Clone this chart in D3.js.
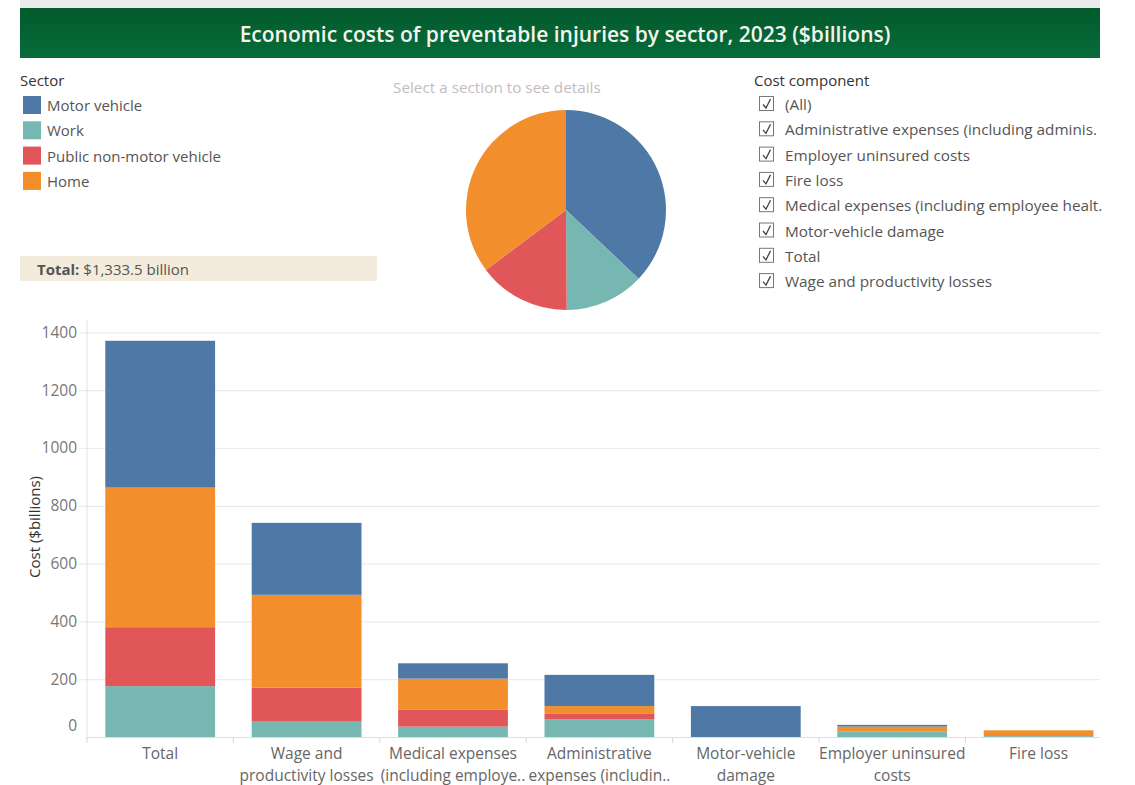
<!DOCTYPE html>
<html>
<head>
<meta charset="utf-8">
<script src="https://cdn.jsdelivr.net/npm/d3@7"></script>
<style>
  html, body { margin: 0; padding: 0; background: #fff; }
  svg { display: block; font-family: "Open Sans", "Noto Sans", sans-serif; }
</style>
</head>
<body>
<svg id="chart" width="1135" height="785"></svg>
<script>
// ---- data ($billions, 2023) ----
const categories = [
  "Total",
  "Wage and productivity losses",
  "Medical expenses (including employee health insurance)",
  "Administrative expenses (including administrative costs)",
  "Motor-vehicle damage",
  "Employer uninsured costs",
  "Fire loss"
];
const categoryLabelLines = [
  ["Total"],
  ["Wage and", "productivity losses"],
  ["Medical expenses", "(including employe.."],
  ["Administrative", "expenses (includin.."],
  ["Motor-vehicle", "damage"],
  ["Employer uninsured", "costs"],
  ["Fire loss"]
];
const sectors = ["Motor vehicle", "Work", "Public non-motor vehicle", "Home"];
const sectorColors = ["#4e79a7", "#76b7b2", "#e15759", "#f28e2b"];

const motorVehicle   = [508, 249,  53, 108, 107,  6,  0];
const work           = [176,  53,  36,  62,   0, 18,  3];
const publicNonMotor = [204, 118,  58,  18,   0,  1,  0];
const home           = [483, 321, 108,  27,   0, 17, 20];

const yTicks = [0, 200, 400, 600, 800, 1000, 1200, 1400];
const costComponents = [
  "(All)",
  "Administrative expenses (including adminis.",
  "Employer uninsured costs",
  "Fire loss",
  "Medical expenses (including employee healt.",
  "Motor-vehicle damage",
  "Total",
  "Wage and productivity losses"
];
const totalText = "$1,333.5 billion";

// ---- setup ----
const FS = 15.3;
const svg = d3.select("#chart");
const seriesBySector = {
  "Motor vehicle": motorVehicle,
  "Work": work,
  "Public non-motor vehicle": publicNonMotor,
  "Home": home
};
const color = d3.scaleOrdinal().domain(sectors).range(sectorColors);

// ---- header ----
const defs = svg.append("defs");
const grad = defs.append("linearGradient").attr("id", "hdr").attr("x1", 0).attr("x2", 0).attr("y1", 0).attr("y2", 1);
grad.append("stop").attr("offset", "0%").attr("stop-color", "#045a2d");
grad.append("stop").attr("offset", "100%").attr("stop-color", "#066c3a");
svg.append("rect").attr("x", 20).attr("y", 0).attr("width", 1080).attr("height", 8).attr("fill", "#ececec");
svg.append("rect").attr("x", 20).attr("y", 8).attr("width", 1080).attr("height", 50).attr("fill", "url(#hdr)");
svg.append("text")
  .attr("x", 565).attr("y", 34).attr("text-anchor", "middle").attr("dominant-baseline", "central")
  .attr("fill", "#f4f4ee").attr("font-size", 21).attr("font-weight", 600)
  .text("Economic costs of preventable injuries by sector, 2023 ($billions)");

// ---- sector legend ----
svg.append("text").attr("x", 20).attr("y", 80).attr("dominant-baseline", "central")
  .attr("fill", "#333").attr("font-size", 15).text("Sector");
const leg = svg.append("g").selectAll("g").data(sectors).join("g")
  .attr("transform", (d, i) => `translate(23,${96 + i * 25.3})`);
leg.append("rect").attr("width", 18).attr("height", 18).attr("fill", d => color(d));
leg.append("text").attr("x", 24).attr("y", 9).attr("dominant-baseline", "central")
  .attr("fill", "#555").attr("font-size", 15).text(d => d);

// ---- total box ----
svg.append("rect").attr("x", 20).attr("y", 256).attr("width", 357).attr("height", 25).attr("fill", "#f3ecdc");
const tt = svg.append("text").attr("x", 37).attr("y", 269).attr("dominant-baseline", "central")
  .attr("fill", "#555").attr("font-size", 15);
tt.append("tspan").attr("font-weight", 700).text("Total:");
tt.append("tspan").text(" " + totalText);

// ---- pie ----
svg.append("text").attr("x", 393).attr("y", 87).attr("dominant-baseline", "central")
  .attr("fill", "#c4bcbc").attr("font-size", FS).text("Select a section to see details");
const pieData = sectors.map(s => ({ sector: s, value: seriesBySector[s][0] }));
const pie = d3.pie().sort(null).value(d => d.value);
const arc = d3.arc().innerRadius(0).outerRadius(100);
svg.append("g").attr("transform", "translate(566,210)")
  .selectAll("path").data(pie(pieData)).join("path")
  .attr("d", arc).attr("fill", d => color(d.data.sector));

// ---- cost component filter ----
svg.append("text").attr("x", 754).attr("y", 80).attr("dominant-baseline", "central")
  .attr("fill", "#333").attr("font-size", 15).text("Cost component");
const cc = svg.append("g").selectAll("g").data(costComponents).join("g")
  .attr("transform", (d, i) => `translate(759,${104 + i * 25.3})`);
cc.append("rect").attr("x", 0.5).attr("y", -7.5).attr("width", 14).attr("height", 14)
  .attr("fill", "#fff").attr("stroke", "#777").attr("stroke-width", 1);
cc.append("path").attr("d", "M4,0.5 L7,4 L11.5,-5").attr("fill", "none")
  .attr("stroke", "#444").attr("stroke-width", 1.3);
cc.append("text").attr("x", 26).attr("y", 0).attr("dominant-baseline", "central")
  .attr("fill", "#555").attr("font-size", FS).text(d => d);

// ---- bar chart ----
const plotLeft = 87, plotRight = 1100, plotTop = 320, baseY = 737;
const x = d3.scaleBand().domain(categories).range([plotLeft, plotLeft + 7 * 146.4])
  .paddingInner(0.25).paddingOuter(0.125);
const y = d3.scaleLinear().domain([0, 1400]).range([baseY, baseY - 1400 * 0.289]);

// gridlines + y tick labels
const yAxis = d3.axisLeft(y).tickValues(yTicks).tickFormat(d3.format("d"))
  .tickSize(-(plotRight - plotLeft)).tickPadding(10);
const yg = svg.append("g").attr("transform", `translate(${plotLeft},0)`).call(yAxis);
yg.select(".domain").remove();
yg.selectAll(".tick line").attr("x1", -8).attr("stroke", "#ebebeb").attr("stroke-width", 1.2);
yg.selectAll(".tick").filter(d => d === 0).select("line").remove();
yg.selectAll(".tick text").attr("fill", "#777").attr("font-size", 15.5)
  .attr("font-family", "'Open Sans', sans-serif");
yg.selectAll(".tick").filter(d => d === 0).select("text").attr("dy", "-0.45em");

// y axis vertical rule
svg.append("line").attr("x1", plotLeft).attr("x2", plotLeft).attr("y1", plotTop).attr("y2", baseY)
  .attr("stroke", "#e2e2e2").attr("stroke-width", 1);

// y axis title
svg.append("text").attr("transform", `translate(34,527) rotate(-90)`)
  .attr("text-anchor", "middle").attr("dominant-baseline", "central")
  .attr("fill", "#333").attr("font-size", 15).text("Cost ($billions)");

// stacked bars: Work, Public non-motor vehicle, Home, Motor vehicle (bottom to top)
const stackKeys = ["Work", "Public non-motor vehicle", "Home", "Motor vehicle"];
const rows = categories.map((c, i) => {
  const r = { category: c };
  sectors.forEach(s => { r[s] = seriesBySector[s][i]; });
  return r;
});
const stacked = d3.stack().keys(stackKeys)(rows);
svg.append("g").selectAll("g").data(stacked).join("g")
  .attr("fill", d => color(d.key))
  .selectAll("rect").data(d => d).join("rect")
  .attr("x", d => x(d.data.category))
  .attr("width", x.bandwidth())
  .attr("y", d => y(d[1]))
  .attr("height", d => Math.max(0, y(d[0]) - y(d[1])));

// x axis baseline and category separators
svg.append("line").attr("x1", plotLeft).attr("x2", plotRight).attr("y1", baseY + 0.5).attr("y2", baseY + 0.5)
  .attr("stroke", "#dedede").attr("stroke-width", 1);
const step = x.step();
svg.append("g").selectAll("line").data(d3.range(7)).join("line")
  .attr("x1", i => plotLeft + i * step).attr("x2", i => plotLeft + i * step)
  .attr("y1", baseY).attr("y2", baseY + 6)
  .attr("stroke", "#d6d6d6").attr("stroke-width", 1);

// category labels
const lab = svg.append("g").selectAll("text").data(categories).join("text")
  .attr("x", d => x(d) + x.bandwidth() / 2)
  .attr("text-anchor", "middle").attr("fill", "#666").attr("font-size", 15.5);
lab.selectAll("tspan").data((d, i) => categoryLabelLines[i]).join("tspan")
  .attr("x", function () { return this.parentNode.getAttribute("x"); })
  .attr("y", (d, j) => 753 + j * 21.5).attr("dominant-baseline", "central")
  .text(d => d);
</script>
</body>
</html>
